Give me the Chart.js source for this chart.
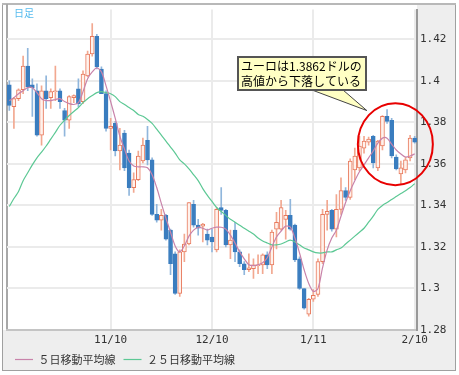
<!DOCTYPE html>
<html>
<head>
<meta charset="utf-8">
<script src="https://cdn.jsdelivr.net/npm/chart.js@4.4.1/dist/chart.umd.min.js"></script>
<style>
  body { margin: 0; background: #fff; }
  #wrap { width: 459px; height: 375px; }
</style>
</head>
<body>
<div id="wrap"><canvas id="candleChart"></canvas></div>
<script>
// daily EUR/USD candles
const openPrices = [
    1.3981, 1.3876, 1.3914, 1.3957, 1.4071, 1.3981, 1.3952, 1.3738, 1.3952, 1.3919,
    1.3948, 1.3952, 1.3857, 1.3810, 1.3919, 1.3962, 1.3900, 1.4024, 1.4129, 1.4214,
    1.4057, 1.3938, 1.3771, 1.3795, 1.3662, 1.3748, 1.3652, 1.3486, 1.3524, 1.3614,
    1.3714, 1.3619, 1.3357, 1.3329, 1.3352, 1.3281, 1.3167, 1.2976, 1.3176, 1.3214,
    1.3405, 1.3305, 1.3300, 1.3262, 1.3248, 1.3186, 1.3390, 1.3376, 1.3210, 1.3281,
    1.3176, 1.3119, 1.3090, 1.3095, 1.3110, 1.3114, 1.3162, 1.3114, 1.3286, 1.3286,
    1.3333, 1.3352, 1.3305, 1.3143, 1.3000, 1.2876, 1.2948, 1.2971, 1.3129, 1.3357,
    1.3376, 1.3286, 1.3381, 1.3471, 1.3438, 1.3571, 1.3581, 1.3676, 1.3705, 1.3733,
    1.3581, 1.3686, 1.3829, 1.3810, 1.3633, 1.3552, 1.3571, 1.3629, 1.3724
];
const highPrices = [
    1.4000, 1.3920, 1.3962, 1.4119, 1.4157, 1.4010, 1.3986, 1.3976, 1.4024, 1.3962,
    1.4071, 1.3962, 1.3867, 1.3929, 1.3933, 1.4010, 1.4048, 1.4143, 1.4276, 1.4224,
    1.4067, 1.3952, 1.3819, 1.3805, 1.3771, 1.3762, 1.3667, 1.3557, 1.3662, 1.3724,
    1.3781, 1.3629, 1.3405, 1.3381, 1.3357, 1.3286, 1.3176, 1.3186, 1.3262, 1.3414,
    1.3424, 1.3333, 1.3314, 1.3286, 1.3286, 1.3390, 1.3486, 1.3381, 1.3281, 1.3319,
    1.3186, 1.3129, 1.3167, 1.3143, 1.3162, 1.3167, 1.3176, 1.3281, 1.3367, 1.3424,
    1.3376, 1.3429, 1.3310, 1.3152, 1.3000, 1.2952, 1.2995, 1.3143, 1.3381, 1.3424,
    1.3381, 1.3452, 1.3533, 1.3486, 1.3624, 1.3676, 1.3733, 1.3733, 1.3729, 1.3738,
    1.3714, 1.3833, 1.3862, 1.3819, 1.3643, 1.3614, 1.3633, 1.3738, 1.3733
];
const lowPrices = [
    1.3857, 1.3771, 1.3905, 1.3938, 1.3952, 1.3829, 1.3733, 1.3690, 1.3867, 1.3867,
    1.3905, 1.3867, 1.3733, 1.3771, 1.3895, 1.3876, 1.3890, 1.4019, 1.4119, 1.4057,
    1.3938, 1.3757, 1.3667, 1.3638, 1.3571, 1.3567, 1.3448, 1.3462, 1.3519, 1.3605,
    1.3595, 1.3352, 1.3319, 1.3281, 1.3233, 1.3067, 1.2971, 1.2962, 1.3129, 1.3210,
    1.3295, 1.3257, 1.3224, 1.3210, 1.3176, 1.3176, 1.3357, 1.3200, 1.3143, 1.3129,
    1.3105, 1.3067, 1.3081, 1.3048, 1.3071, 1.3071, 1.3095, 1.3071, 1.3190, 1.3281,
    1.3238, 1.3281, 1.3129, 1.2995, 1.2900, 1.2867, 1.2938, 1.2962, 1.3119, 1.3281,
    1.3276, 1.3248, 1.3357, 1.3424, 1.3429, 1.3524, 1.3567, 1.3652, 1.3690, 1.3581,
    1.3567, 1.3667, 1.3795, 1.3629, 1.3571, 1.3500, 1.3557, 1.3614, 1.3700
];
const closePrices = [
    1.3881, 1.3914, 1.3957, 1.4071, 1.3971, 1.3967, 1.3738, 1.3952, 1.3914, 1.3948,
    1.3952, 1.3900, 1.3810, 1.3924, 1.3929, 1.3890, 1.4033, 1.4129, 1.4214, 1.4067,
    1.3938, 1.3771, 1.3781, 1.3662, 1.3690, 1.3581, 1.3486, 1.3524, 1.3638, 1.3690,
    1.3619, 1.3357, 1.3329, 1.3352, 1.3238, 1.3119, 1.2976, 1.3176, 1.3214, 1.3414,
    1.3305, 1.3290, 1.3310, 1.3233, 1.3224, 1.3381, 1.3376, 1.3210, 1.3233, 1.3176,
    1.3119, 1.3090, 1.3100, 1.3114, 1.3114, 1.3162, 1.3114, 1.3271, 1.3319, 1.3390,
    1.3352, 1.3286, 1.3138, 1.3000, 1.2905, 1.2948, 1.2967, 1.3129, 1.3357, 1.3371,
    1.3286, 1.3381, 1.3471, 1.3438, 1.3614, 1.3638, 1.3686, 1.3710, 1.3719, 1.3605,
    1.3710, 1.3829, 1.3805, 1.3638, 1.3576, 1.3581, 1.3619, 1.3724, 1.3705
];

// moving averages as drawn
const ma5 = [
    1.3905, 1.3919, 1.3938, 1.3952, 1.3967, 1.3967, 1.3943, 1.3914, 1.3905, 1.3905,
    1.3910, 1.3914, 1.3900, 1.3890, 1.3886, 1.3895, 1.3948, 1.4010, 1.4043, 1.4062,
    1.4043, 1.3976, 1.3900, 1.3819, 1.3733, 1.3671, 1.3614, 1.3590, 1.3586, 1.3586,
    1.3581, 1.3548, 1.3486, 1.3410, 1.3338, 1.3271, 1.3205, 1.3176, 1.3205, 1.3252,
    1.3281, 1.3295, 1.3290, 1.3281, 1.3290, 1.3295, 1.3295, 1.3286, 1.3257, 1.3219,
    1.3176, 1.3143, 1.3114, 1.3110, 1.3114, 1.3124, 1.3148, 1.3200, 1.3248, 1.3276,
    1.3300, 1.3295, 1.3243, 1.3171, 1.3090, 1.3024, 1.2986, 1.3000, 1.3100, 1.3186,
    1.3243, 1.3281, 1.3348, 1.3414, 1.3471, 1.3519, 1.3562, 1.3595, 1.3629, 1.3662,
    1.3700, 1.3724, 1.3724, 1.3695, 1.3667, 1.3648, 1.3633, 1.3638, 1.3648
];
const ma25 = [
    1.3395, 1.3433, 1.3467, 1.3519, 1.3557, 1.3595, 1.3629, 1.3657, 1.3686, 1.3719,
    1.3752, 1.3786, 1.3810, 1.3833, 1.3852, 1.3871, 1.3895, 1.3914, 1.3929, 1.3943,
    1.3948, 1.3943, 1.3938, 1.3924, 1.3900, 1.3886, 1.3871, 1.3857, 1.3838, 1.3829,
    1.3814, 1.3795, 1.3767, 1.3738, 1.3710, 1.3681, 1.3652, 1.3619, 1.3600, 1.3576,
    1.3548, 1.3519, 1.3481, 1.3448, 1.3419, 1.3390, 1.3371, 1.3352, 1.3333, 1.3319,
    1.3305, 1.3290, 1.3276, 1.3262, 1.3243, 1.3229, 1.3219, 1.3210, 1.3210, 1.3214,
    1.3224, 1.3233, 1.3224, 1.3210, 1.3195, 1.3186, 1.3176, 1.3171, 1.3171, 1.3176,
    1.3176, 1.3186, 1.3195, 1.3214, 1.3233, 1.3252, 1.3271, 1.3290, 1.3319, 1.3348,
    1.3381, 1.3400, 1.3414, 1.3429, 1.3443, 1.3457, 1.3471, 1.3486, 1.3505
];

// axis labels
const xTickIndex = [22, 44, 66, 88];
const xTickText = ['11/10', '12/10', '1/11', '2/10'];
const yTickValues = [1.28, 1.30, 1.32, 1.34, 1.36, 1.38, 1.40, 1.42];
const legendNames = ['５日移動平均線', '２５日移動平均線'];
const noteLines = ['ユーロは1.3862ドルの', '高値から下落している'];

const UP_LINE = '#e8795c';
const UP_FILL = '#fff2ec';
const UP_WICK = '#f2a890';
const DOWN_FILL = '#3a7dbf';
const DOWN_WICK = '#90b6dc';

function buildLabels() {
    const labels = openPrices.map(() => '');
    xTickIndex.forEach((idx, i) => { labels[idx] = xTickText[i]; });
    return labels;
}

function isUp(i) {
    return closePrices[i] >= openPrices[i];
}

// gray panels, frame, note balloon and red ring
const decorPlugin = {
    id: 'decor',
    beforeDraw(chart) {
        const { ctx, chartArea: a } = chart;
        ctx.save();
        ctx.fillStyle = '#fff';
        ctx.fillRect(0, 0, chart.width, chart.height);
        ctx.fillStyle = '#eeeeee';
        ctx.fillRect(a.right, 4, 456 - a.right, a.bottom - 4);
        ctx.fillRect(2, a.bottom, 454, 370 - a.bottom);
        ctx.strokeStyle = '#a0a0a0';
        ctx.lineWidth = 1;
        ctx.strokeRect(2.5, 3.5, 453, 367);
        ctx.fillStyle = '#b8b8b8';
        ctx.fillRect(2, 3, 454, 2);
        ctx.fillStyle = '#a8a8a8';
        ctx.fillRect(a.left - 1, 4, 2, a.bottom - 4);
        ctx.restore();
    },
    afterDraw(chart) {
        const { ctx } = chart;
        const xs = chart.scales.x;
        const ys = chart.scales.y;
        ctx.save();

        ctx.fillStyle = '#55bbee';
        ctx.font = '10px "Noto Sans CJK JP"';
        ctx.textBaseline = 'middle';
        ctx.fillText('日足', 14, 13);

        // balloon pointer aims at the recent high
        const tipX = xs.getPixelForValue(77.6);
        const tipY = ys.getPixelForValue(1.3857);
        ctx.fillStyle = '#ffffc4';
        ctx.strokeStyle = '#444';
        ctx.lineWidth = 1;
        ctx.beginPath();
        ctx.moveTo(312, 90);
        ctx.lineTo(tipX, tipY);
        ctx.lineTo(343, 90);
        ctx.closePath();
        ctx.fill();
        ctx.stroke();

        ctx.fillRect(237, 56, 130, 35);
        ctx.lineWidth = 2;
        ctx.strokeStyle = '#555';
        ctx.strokeRect(238, 57, 128, 33);
        ctx.fillStyle = '#000';
        ctx.font = '12px "Noto Sans CJK JP"';
        ctx.fillText(noteLines[0], 241, 66);
        ctx.fillText(noteLines[1], 241, 81);

        // red ring round the last candles
        const cx = xs.getPixelForValue(83.8);
        const cy = ys.getPixelForValue(1.3695);
        ctx.strokeStyle = '#e80000';
        ctx.lineWidth = 2;
        ctx.beginPath();
        ctx.ellipse(cx, cy, 37.5, 41, 0, 0, Math.PI * 2);
        ctx.stroke();
        ctx.restore();
    }
};

function drawCandleChart() {
    const n = openPrices.length;
    const wicks = lowPrices.map((l, i) => [l, highPrices[i]]);
    const bodies = openPrices.map((o, i) => [o, closePrices[i]]);
    const idx = [...Array(n).keys()];

    const ctx = document.getElementById('candleChart').getContext('2d');
    new Chart(ctx, {
        type: 'bar',
        data: {
            labels: buildLabels(),
            datasets: [
                {
                    type: 'line',
                    label: legendNames[0],
                    data: ma5,
                    borderColor: '#c883aa',
                    borderWidth: 1.2,
                    pointRadius: 0,
                    tension: 0.3,
                    order: 0
                },
                {
                    type: 'line',
                    label: legendNames[1],
                    data: ma25,
                    borderColor: '#5cc894',
                    borderWidth: 1.2,
                    pointRadius: 0,
                    tension: 0.3,
                    order: 0
                },
                {
                    label: 'body',
                    data: bodies,
                    grouped: false,
                    barThickness: 4,
                    borderSkipped: false,
                    borderWidth: 1,
                    backgroundColor: idx.map(i => isUp(i) ? UP_FILL : DOWN_FILL),
                    borderColor: idx.map(i => isUp(i) ? UP_LINE : DOWN_FILL),
                    order: 1
                },
                {
                    label: 'wick',
                    data: wicks,
                    grouped: false,
                    barThickness: 1,
                    borderWidth: 0,
                    backgroundColor: idx.map(i => isUp(i) ? UP_WICK : DOWN_WICK),
                    order: 2
                }
            ]
        },
        options: {
            responsive: true,
            maintainAspectRatio: false,
            animation: false,
            layout: { padding: { left: 7, top: 5, right: 4, bottom: 0 } },
            scales: {
                x: {
                    offset: true,
                    afterFit: s => { s.height = 16; },
                    border: { color: '#c4c4c4', width: 2 },
                    grid: {
                        offset: false,
                        drawTicks: false,
                        lineWidth: 2,
                        color: c => xTickIndex.includes(c.index) ? '#ebebeb' : 'rgba(0,0,0,0)'
                    },
                    ticks: {
                        autoSkip: false,
                        maxRotation: 0,
                        padding: 4,
                        color: '#333',
                        font: { family: 'DejaVu Sans Mono', size: 11 }
                    }
                },
                y: {
                    position: 'right',
                    min: 1.28,
                    max: 1.4343,
                    afterFit: s => { s.width = 38; },
                    afterBuildTicks: s => { s.ticks = yTickValues.map(v => ({ value: v })); },
                    border: { color: '#999', width: 2 },
                    grid: { drawTicks: false, lineWidth: 2, color: '#ebebeb' },
                    ticks: {
                        padding: 3,
                        color: '#333',
                        font: { family: 'DejaVu Sans Mono', size: 11 },
                        callback: v => String(Number(v.toFixed(2)))
                    }
                }
            },
            plugins: {
                legend: {
                    position: 'bottom',
                    align: 'start',
                    labels: {
                        filter: item => item.datasetIndex < 2,
                        usePointStyle: true,
                        pointStyle: 'line',
                        pointStyleWidth: 18,
                        padding: 8,
                        color: '#333',
                        font: { family: 'Noto Sans CJK JP', size: 11 }
                    }
                },
                tooltip: { enabled: false }
            }
        },
        plugins: [decorPlugin]
    });
}

drawCandleChart();
</script>
</body>
</html>
